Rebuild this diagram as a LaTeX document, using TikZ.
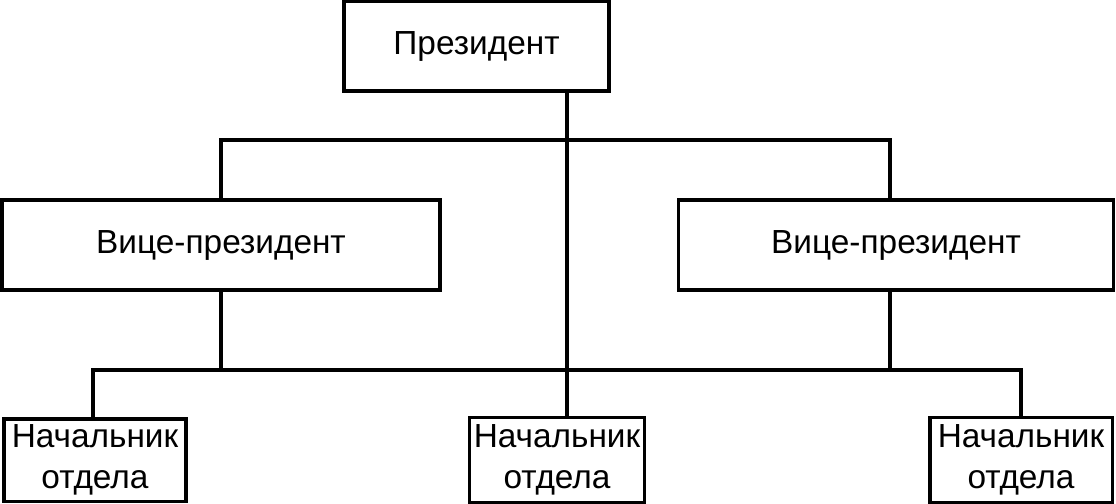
\documentclass[tikz,border=0pt]{standalone}
\usepackage{fontspec}
\setmainfont{Liberation Sans}
\usepackage{tikz}

\tikzset{box/.style={draw,line width=2pt,inner sep=2pt,align=center,font=\fontsize{19}{23}\selectfont}}

\begin{document}
\begin{tikzpicture}[line width=2pt]
\useasboundingbox (0,0) rectangle (22.32,10.06);

\node[box,minimum width=5.3cm,minimum height=1.8cm] (pres) at (9.53,9.14) {Президент};
\node[box,minimum width=8.75cm,minimum height=1.8cm] (vpl) at (4.42,5.16) {Вице-президент};
\node[box,minimum width=8.7cm,minimum height=1.8cm] (vpr) at (17.92,5.16) {Вице-президент};

\node[box,minimum width=3.65cm,minimum height=1.65cm] (hl) at (1.9,0.86) {Начальник\\отдела};
\node[box,minimum width=3.5cm,minimum height=1.7cm] (hm) at (11.14,0.86) {Начальник\\отдела};
\node[box,minimum width=3.65cm,minimum height=1.7cm] (hr) at (20.42,0.86) {Начальник\\отдела};

\coordinate (mid) at (11.34,7.26);
\coordinate (b1l) at (4.42,7.26);
\coordinate (b1r) at (17.8,7.26);
\coordinate (b2l) at (1.86,2.66);
\coordinate (b2r) at (20.42,2.66);

\draw (pres.south -| mid) -- (mid |- hm.north);
\draw (vpl.north -| b1l) -- (b1l) -- (b1r) -- (vpr.north -| b1r);
\draw (vpl.south -| b1l) -- (b1l |- b2l);
\draw (vpr.south -| b1r) -- (b1r |- b2r);
\draw (hl.north -| b2l) -- (b2l) -- (b2r) -- (hr.north -| b2r);

\end{tikzpicture}
\end{document}
